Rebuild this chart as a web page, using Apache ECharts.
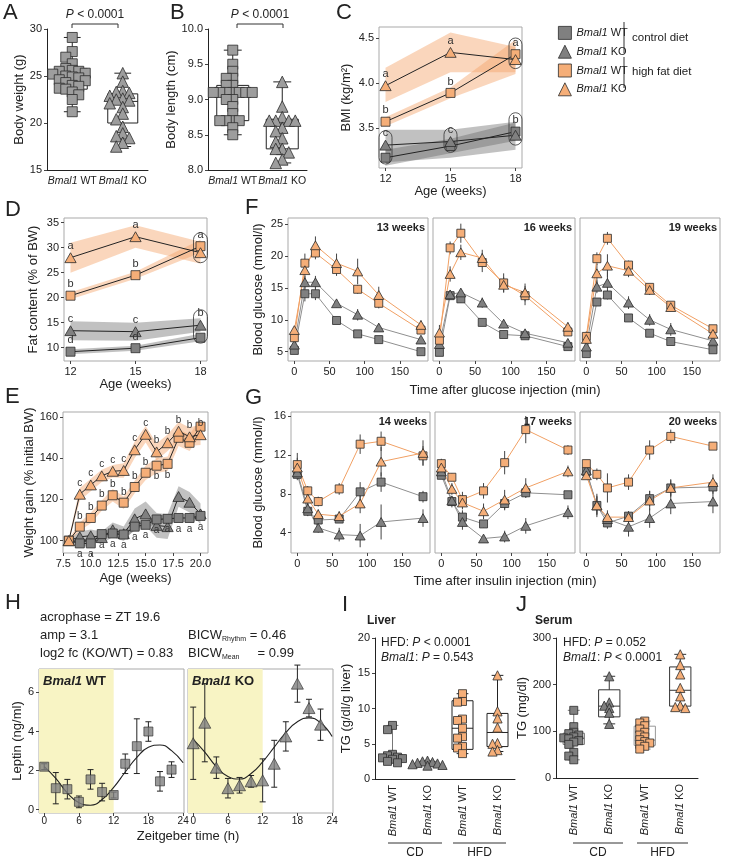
<!DOCTYPE html>
<html>
<head>
<meta charset="utf-8">
<title>Bmal1 metabolic phenotype</title>
<script src="https://cdn.jsdelivr.net/npm/echarts@6/dist/echarts.min.js"></script>
<style>
  html, body { margin: 0; padding: 0; background: #fff; }
  #chart { width: 733px; height: 860px; }
</style>
</head>
<body>
<div id="chart"></div>
<script>
// ---------- data ----------
// A: body weight (g)
const weightWT = [29.1, 27.6, 27.0, 26.3, 25.8, 25.6, 25.5, 25.5, 25.3, 25.2, 25.0, 24.9, 24.8, 24.6, 24.5, 24.3, 24.0, 23.9, 23.7, 23.6, 23.3, 23.0, 22.5, 21.2];
const weightKO = [25.3, 24.4, 23.4, 23.3, 23.2, 22.9, 22.6, 22.5, 22.4, 22.1, 21.7, 21.0, 20.4, 19.6, 18.9, 18.6, 18.4, 17.9, 17.5];
const weightBox = [[21.2, 23.6, 24.9, 25.8, 29.1], [17.5, 20.0, 22.3, 23.1, 25.3]]; // min, q1, median, q3, max
const weightTicks = [15, 20, 25, 30];

// B: body length (cm)
const lengthWT = [9.7, 9.5, 9.4, 9.3, 9.3, 9.2, 9.2, 9.1, 9.1, 9.1, 9.1, 9.1, 9.1, 9.1, 9.1, 9.0, 9.0, 8.9, 8.8, 8.7, 8.7, 8.7, 8.7, 8.6, 8.5];
const lengthKO = [9.25, 8.9, 8.75, 8.7, 8.7, 8.7, 8.7, 8.6, 8.55, 8.45, 8.4, 8.3, 8.3, 8.25, 8.15, 8.1];
const lengthBox = [[8.5, 8.7, 9.1, 9.2, 9.7], [8.1, 8.3, 8.65, 8.72, 9.25]];
const lengthTicks = [8.0, 8.5, 9.0, 9.5, 10.0];

// C/D: age (weeks)
const ages = [12, 15, 18];
const ageTicks = [12, 15, 18];
// C: BMI (kg/m2) mean and band
const bmiCdWt = [3.17, 3.30, 3.46], bmiCdWtLo = [3.08, 3.22, 3.36], bmiCdWtHi = [3.26, 3.38, 3.56];
const bmiCdKo = [3.31, 3.35, 3.42], bmiCdKoLo = [3.12, 3.17, 3.26], bmiCdKoHi = [3.48, 3.48, 3.57];
const bmiHfdWt = [3.57, 3.89, 4.32], bmiHfdWtLo = [3.52, 3.83, 4.10], bmiHfdWtHi = [3.62, 3.95, 4.48];
const bmiHfdKo = [3.97, 4.34, 4.26], bmiHfdKoLo = [3.79, 4.12, 4.12], bmiHfdKoHi = [4.17, 4.56, 4.40];
const bmiLetters = { hfdKo: ['a', 'a', ''], hfdWt: ['b', 'b', 'a'], cdKo: ['c', 'c', ''], cdWt: ['', '', 'b'] };
const bmiCircles = [[12, 3.10, 3.47], [15, 3.23, 3.50], [18, 4.16, 4.50], [18, 3.31, 3.67]];
const bmiTicks = [3.5, 4.0, 4.5];

// D: fat content (% of BW)
const fatCdWt = [9.2, 9.9, 12.0], fatCdWtLo = [8.7, 9.4, 11.3], fatCdWtHi = [9.7, 10.4, 12.8];
const fatCdKo = [13.4, 13.2, 14.5], fatCdKoLo = [11.5, 11.4, 13.2], fatCdKoHi = [15.3, 15.0, 15.9];
const fatHfdWt = [20.4, 24.5, 30.3], fatHfdWtLo = [19.7, 23.8, 29.0], fatHfdWtHi = [21.1, 25.2, 31.6];
const fatHfdKo = [28.0, 32.2, 29.0], fatHfdKoLo = [25.0, 30.0, 26.8], fatHfdKoHi = [31.0, 34.5, 31.2];
const fatLetters = { hfdKo: ['a', 'a', ''], hfdWt: ['b', 'b', 'a'], cdKo: ['c', 'c', 'b'], cdWt: ['d', 'd', ''] };
const fatCircles = [[18, 27.0, 33.0], [18, 10.9, 17.6]];
const fatTicks = [10, 15, 20, 25, 30, 35];

// E: weight gain (% initial BW)
const weeks = [8, 9, 10, 11, 12, 13, 14, 15, 16, 17, 18, 19, 20];
const weekTicks = [7.5, 10, 12.5, 15, 17.5, 20];
const gainHfdKo = [100, 122.5, 127, 131.4, 133.6, 134, 144, 151.5, 143, 147.4, 153, 150.3, 151.3];
const gainHfdWt = [100, 106.8, 111, 117, 122, 118.4, 126, 132.9, 136.3, 137.2, 149.8, 147.4, 155.2];
const gainCdKo = [100, 101.9, 102.4, 101.5, 105.3, 103.4, 110.6, 113, 107.4, 106.8, 121.4, 118.6, 113];
const gainCdWt = [100, 98.7, 98.7, 103.2, 103.5, 103, 106.8, 107.7, 110.3, 110.6, 111, 111, 112];
const gainHfdKoSpread = [1, 3, 3, 3, 3, 3.5, 4, 4, 4, 4, 4.5, 4.5, 5];
const gainHfdWtSpread = [1, 2, 2.5, 2.5, 3, 3, 3, 3.5, 3.5, 3.5, 4, 4, 4];
const gainCdKoSpread = [1, 2.5, 3, 3, 3.5, 3.5, 5, 6, 6, 6, 5, 5, 5];
const gainCdWtSpread = [1, 1.5, 1.5, 1.5, 2, 2, 2, 2, 2, 2, 2, 2, 2];
const gainLettersHfdKo = ['', 'c', 'c', 'c', 'c', 'c', 'c', 'c', 'b', 'b', 'b', 'b', 'b'];
const gainLettersHfdWt = ['', 'b', 'b', 'b', 'b', 'b', 'b', 'b', 'b', 'b', '', '', ''];
const gainLettersCdWt = ['', 'a', 'a', 'a', 'a', 'a', 'a', 'a', 'a', 'a', 'a', 'a', 'a'];
const gainTicks = [100, 120, 140, 160];

// F: glucose tolerance (mmol/l)
const gttTime = [0, 15, 30, 60, 90, 120, 180];
const gttWeeks = ['13 weeks', '16 weeks', '19 weeks'];
const gttCdWt = [[5.2, 14.1, 14.1, 9.9, 7.8, 6.9, 5.0], [4.9, 13.8, 13.3, 9.6, 7.7, 7.5, 5.8], [4.7, 12.8, 13.9, 10.3, 7.9, 6.6, 5.3]];
const gttCdKo = [[6.1, 15.9, 15.9, 12.6, 10.8, 8.8, 6.9], [6.2, 14.0, 14.3, 12.7, 9.4, 7.9, 6.4], [5.8, 15.2, 15.8, 12.7, 10.0, 8.5, 6.7]];
const gttHfdWt = [[7.2, 18.9, 20.5, 17.9, 14.8, 12.6, 8.4], [6.8, 21.3, 23.6, 19.0, 15.8, 13.8, 8.1], [7.4, 19.6, 22.8, 18.6, 15.1, 12.3, 8.6]];
const gttHfdKo = [[8.4, 17.8, 21.7, 18.9, 17.6, 13.9, 9.2], [8.0, 17.2, 20.6, 19.7, 15.5, 14.3, 8.9], [7.0, 17.3, 18.5, 17.7, 14.7, 12.0, 7.8]];
const gttCdWtErr = [[0.5, 1.2, 1.0, 0.5, 0.4, 0.3, 0.3], [0.4, 0.5, 0.6, 0.5, 0.5, 0.4, 0.4], [0.3, 0.6, 0.7, 0.5, 0.4, 0.3, 0.3]];
const gttCdKoErr = [[0.7, 1.0, 1.0, 0.6, 0.9, 0.5, 0.3], [0.8, 0.6, 0.5, 0.8, 0.7, 0.5, 0.5], [0.8, 1.0, 1.8, 1.0, 0.9, 1.0, 0.5]];
const gttHfdWtErr = [[0.8, 1.5, 1.0, 1.0, 0.7, 0.8, 0.5], [1.0, 1.0, 1.5, 1.5, 1.5, 1.5, 0.6], [0.8, 1.0, 1.0, 0.7, 0.5, 0.5, 0.4]];
const gttHfdKoErr = [[0.5, 1.5, 1.4, 1.5, 2.0, 1.3, 0.7], [1.2, 1.2, 1.2, 1.3, 1.2, 1.4, 0.7], [0.8, 1.5, 1.8, 1.0, 0.8, 0.6, 0.5]];
const gttTicks = [5, 10, 15, 20, 25];
const timeTicks = [0, 50, 100, 150];

// G: insulin tolerance (mmol/l)
const ittTime = [0, 15, 30, 60, 90, 120, 180];
const ittWeeks = ['14 weeks', '17 weeks', '20 weeks'];
const ittCdWt = [[10.0, 6.2, 5.3, 5.4, 8.2, 9.2, 7.7], [9.9, 7.2, 5.6, 4.9, 7.0, 8.1, 7.9], [10.3, 6.8, 5.0, 5.7, 7.5, 8.6, 8.7]];
const ittCdKo = [[10.2, 6.5, 4.5, 3.8, 3.7, 5.1, 5.5], [10.3, 7.3, 5.1, 3.4, 3.6, 4.7, 6.1], [10.4, 6.8, 5.4, 4.6, 5.5, 7.0, 7.2]];
const ittHfdWt = [[11.0, 8.3, 7.2, 8.5, 13.1, 13.4, 11.9], [11.1, 9.7, 7.4, 8.3, 11.2, 14.6, 12.5], [11.1, 10.0, 8.6, 9.2, 12.5, 13.9, 12.9]];
const ittHfdKo = [[10.7, 7.5, 5.9, 5.7, 7.0, 11.3, 12.2], [10.7, 8.5, 7.1, 6.2, 7.4, 8.6, 10.3], [9.9, 6.8, 5.6, 5.6, 7.3, 8.6, 9.2]];
const ittCdWtErr = [[0.6, 0.5, 0.4, 0.4, 1.0, 1.0, 0.6], [0.3, 0.6, 0.7, 0.4, 0.7, 0.5, 0.3], [0.5, 1.2, 0.6, 0.5, 0.8, 0.8, 0.7]];
const ittCdKoErr = [[0.6, 0.5, 0.5, 0.7, 1.2, 1.8, 0.9], [0.4, 0.4, 0.8, 0.3, 0.6, 0.8, 0.7], [0.5, 1.0, 0.6, 1.0, 1.0, 1.1, 1.2]];
const ittHfdWtErr = [[1.2, 0.5, 0.5, 0.6, 1.0, 1.0, 1.0], [0.5, 0.4, 0.8, 0.8, 1.2, 1.4, 0.5], [0.3, 0.6, 1.5, 0.8, 1.0, 0.7, 0.3]];
const ittHfdKoErr = [[1.0, 0.7, 0.5, 0.5, 1.0, 1.5, 1.3], [0.7, 0.6, 0.7, 0.8, 1.0, 1.0, 0.6], [0.4, 0.9, 0.7, 0.6, 1.0, 0.9, 0.8]];
const ittTicks = [4, 8, 12, 16];

// H: leptin (ng/ml) over zeitgeber time
const zt = [0, 2, 4, 6, 8, 10, 12, 14, 16, 18, 20, 22];
const leptinWT = [2.2, 1.1, 1.05, 0.4, 1.55, 0.9, 0.75, 2.35, 3.25, 4.0, 1.45, 2.05];
const leptinWTErr = [0.15, 0.8, 0.5, 0.3, 0.5, 0.45, 0.15, 0.5, 1.4, 0.5, 0.5, 0.4];
const leptinKO = [3.4, 4.45, 2.15, 1.1, 1.25, 1.45, 1.5, 2.35, 3.75, 6.45, 5.2, 4.35];
const leptinKOErr = [1.85, 2.0, 0.55, 0.5, 0.4, 0.3, 1.1, 1.2, 0.75, 0.95, 0.45, 0.8];
const fitZt = [0, 2, 4, 6, 8, 10, 12, 14, 16, 18, 20, 22, 24];
const fitWT = [2.2, 1.6, 0.86, 0.36, 0.23, 0.52, 1.14, 1.93, 2.68, 3.19, 3.31, 3.02, 2.4];
const fitKO = [3.6, 2.95, 2.2, 1.7, 1.57, 1.85, 2.45, 3.2, 3.95, 4.5, 4.7, 4.45, 3.75];
const ztTicks = [0, 6, 12, 18, 24];
const leptinTicks = [0, 2, 4, 6];

// I: liver TG (g/dl/g liver), J: serum TG (mg/dl)
const tgGroups = ['CD WT', 'CD KO', 'HFD WT', 'HFD KO'];
const liverCdWt = [7.6, 7.0, 3.5, 3.3, 3.1, 3.0, 2.9, 2.8, 2.5, 2.3];
const liverCdKo = [2.6, 2.5, 2.4, 2.3, 2.2, 2.1, 2.0, 1.9];
const liverHfdWt = [12.1, 11.0, 10.9, 8.5, 8.3, 7.2, 6.0, 5.8, 4.6, 4.4, 3.6];
const liverHfdKo = [14.7, 9.6, 8.6, 7.3, 5.1, 5.0, 4.1, 3.9];
const liverBox = [[2.3, 2.6, 2.9, 3.4, 7.6], [1.9, 2.0, 2.2, 2.5, 2.6], [3.6, 4.2, 7.2, 11.1, 12.1], [3.9, 4.6, 6.6, 9.3, 14.7]];
const liverTicks = [0, 5, 10, 15, 20];
const serumCdWt = [145, 110, 98, 95, 92, 88, 86, 84, 80, 77, 72, 55, 47, 39];
const serumCdKo = [218, 162, 155, 150, 140, 116];
const serumHfdWt = [122, 118, 112, 105, 98, 92, 88, 82, 78, 75, 72, 68, 62];
const serumHfdKo = [265, 242, 222, 193, 175, 155, 152, 150];
const serumBox = [[39, 72, 85, 96, 145], [116, 131, 154, 189, 218], [62, 70, 81, 111, 122], [150, 154, 188, 238, 265]];
const serumTicks = [0, 100, 200, 300];

// ---------- styling ----------
const FONT = 'Liberation Sans, Arial, Helvetica, sans-serif';
const INK = '#222';
const EDGE = '#2b2b2b';
const GRAY = '#808080', GRAY_PALE = '#9d9d9d', ORANGE = '#f5ae78';
const GRAY_LINE = '#8f8f8f', ORANGE_LINE = '#f1a064';
const BAND_GRAY = 'rgba(100,100,100,0.40)', BAND_ORANGE = 'rgba(245,163,106,0.45)';

const GR = {
  cdWt: { name: 'CD WT', sym: 'rect', fill: GRAY, line: GRAY_LINE, band: BAND_GRAY },
  cdKo: { name: 'CD KO', sym: 'triangle', fill: GRAY, line: GRAY_LINE, band: BAND_GRAY },
  hfdWt: { name: 'HFD WT', sym: 'rect', fill: ORANGE, line: ORANGE_LINE, band: BAND_ORANGE },
  hfdKo: { name: 'HFD KO', sym: 'triangle', fill: ORANGE, line: ORANGE_LINE, band: BAND_ORANGE }
};

const BOX = {
  A: { left: 47, top: 29, width: 101, height: 141 },
  B: { left: 208, top: 29, width: 99, height: 141 },
  C: { left: 379, top: 27, width: 143, height: 141 },
  D: { left: 64, top: 218, width: 143, height: 143 },
  E: { left: 63, top: 412, width: 145, height: 141 },
  F: [{ left: 288, top: 218, width: 140, height: 143 }, { left: 433, top: 218, width: 142, height: 143 }, { left: 580, top: 218, width: 140, height: 143 }],
  G: [{ left: 291, top: 412, width: 139, height: 141 }, { left: 435, top: 412, width: 140, height: 141 }, { left: 580, top: 412, width: 140, height: 141 }],
  H: [{ left: 39, top: 669, width: 145, height: 144 }, { left: 188, top: 669, width: 145, height: 144 }],
  I: { left: 375, top: 638, width: 140, height: 141 },
  J: { left: 556, top: 638, width: 142, height: 140 }
};

const grid = [], xAxis = [], yAxis = [], series = [], graphic = [];

function axisOpt(dir, gi, o, framed) {
  const isX = dir === 'x';
  return {
    type: 'value', gridIndex: gi, min: o.min, max: o.max,
    position: isX ? 'bottom' : 'left', show: !o.hidden,
    splitLine: { show: false },
    axisLine: { show: !framed, onZero: false, lineStyle: { color: INK, width: 1 } },
    axisTick: { show: !!o.ticks && o.labels !== false, length: 3, lineStyle: { color: '#444' }, customValues: o.ticks },
    axisLabel: { show: !!o.ticks && o.labels !== false, customValues: o.ticks, margin: o.margin || 5, fontSize: o.fs || 11, color: INK, fontFamily: FONT, formatter: o.fmt },
    name: o.name || '', nameLocation: 'middle', nameGap: o.gap || 20,
    nameTextStyle: { fontSize: 13, color: INK, fontFamily: FONT }
  };
}

function panel(box, xo, yo, framed) {
  grid.push(Object.assign({ show: framed, borderColor: '#a9a9a9', borderWidth: 1, backgroundColor: 'transparent' }, box));
  const gi = grid.length - 1;
  xAxis.push(axisOpt('x', gi, xo, framed));
  yAxis.push(axisOpt('y', gi, yo, framed));
  return { gi, xi: xAxis.length - 1, yi: yAxis.length - 1, box,
    pxX: box.width / (xo.max - xo.min), pxY: box.height / (yo.max - yo.min) };
}

function catAxis(p, cats, rotate, fs) {
  fs = fs || 11;
  xAxis.push({
    type: 'category', gridIndex: p.gi, position: 'bottom', data: cats, boundaryGap: true,
    axisLine: { show: true, lineStyle: { color: INK } }, axisTick: { show: false }, splitLine: { show: false },
    axisLabel: {
      interval: 0, rotate: rotate || 0, margin: 6, fontSize: fs, color: INK, fontFamily: FONT,
      formatter: v => '{i|Bmal1} ' + v.split(' ').pop(),
      rich: { i: { fontStyle: 'italic', fontSize: fs, fontFamily: FONT, color: INK } }
    }
  });
}

// deterministic beeswarm: spread overlapping points sideways
function swarm(vals, p, d) {
  const placed = [];
  return vals.map(v => {
    const py = v * p.pxY;
    for (let k = 0; k < 80; k++) {
      const off = (k % 2 ? -1 : 1) * Math.ceil(k / 2) * d * 0.5;
      if (!placed.some(q => Math.abs(q[0] - off) < d * 0.9 && Math.abs(q[1] - py) < d * 0.9)) {
        placed.push([off, py]);
        return off / p.pxX;
      }
    }
    return 0;
  });
}

function dots(p, idx, vals, sym, fill, size, d) {
  const offs = swarm(vals, p, d);
  return {
    type: 'scatter', xAxisIndex: p.xi, yAxisIndex: p.yi, z: 5, symbol: sym,
    symbolSize: sym === 'triangle' ? size * 1.15 : size,
    itemStyle: { color: fill, borderColor: EDGE, borderWidth: 0.8, opacity: 1 },
    data: vals.map((v, i) => [idx + offs[i], v])
  };
}

function boxSeries(p, stats, w, colors) {
  return {
    type: 'custom', xAxisIndex: p.xi, yAxisIndex: p.yi, z: 2, silent: true,
    data: stats.map((s, i) => [i].concat(s)),
    encode: { x: 0, y: [1, 5] },
    renderItem: (params, api) => {
      const x = api.value(0), c = colors[params.dataIndex];
      const P = k => api.coord([x, api.value(k)]);
      const mn = P(1), q1 = P(2), md = P(3), q3 = P(4), mx = P(5);
      const cx = mn[0], h = w / 2, cap = w * 0.28;
      const st = { stroke: c, lineWidth: 1 };
      const ln = (x1, y1, x2, y2) => ({ type: 'line', shape: { x1, y1, x2, y2 }, style: st });
      return { type: 'group', children: [
        { type: 'rect', shape: { x: cx - h, y: q3[1], width: w, height: q1[1] - q3[1] }, style: { stroke: c, lineWidth: 1, fill: 'transparent' } },
        ln(cx - h, md[1], cx + h, md[1]),
        ln(cx, q1[1], cx, mn[1]), ln(cx, q3[1], cx, mx[1]),
        ln(cx - cap, mn[1], cx + cap, mn[1]), ln(cx - cap, mx[1], cx + cap, mx[1])
      ] };
    }
  };
}

function band(p, xs, lo, hi, color) {
  return {
    type: 'custom', xAxisIndex: p.xi, yAxisIndex: p.yi, z: 1, silent: true,
    data: [[xs[0], lo[0]]],
    renderItem: (params, api) => {
      const top = xs.map((x, i) => api.coord([x, hi[i]]));
      const bot = xs.map((x, i) => api.coord([x, lo[i]])).reverse();
      return { type: 'polygon', shape: { points: top.concat(bot) }, style: { fill: color } };
    }
  };
}

function errBars(p, xs, ys, es, color, cap) {
  return {
    type: 'custom', xAxisIndex: p.xi, yAxisIndex: p.yi, z: 3, silent: true,
    data: xs.map((x, i) => [x, ys[i] - es[i], ys[i] + es[i]]),
    encode: { x: 0, y: [1, 2] },
    renderItem: (params, api) => {
      const a = api.coord([api.value(0), api.value(1)]);
      const b = api.coord([api.value(0), api.value(2)]);
      const st = { stroke: color, lineWidth: 1 };
      const ch = [{ type: 'line', shape: { x1: a[0], y1: a[1], x2: b[0], y2: b[1] }, style: st }];
      if (cap) {
        ch.push({ type: 'line', shape: { x1: a[0] - cap, y1: a[1], x2: a[0] + cap, y2: a[1] }, style: st });
        ch.push({ type: 'line', shape: { x1: b[0] - cap, y1: b[1], x2: b[0] + cap, y2: b[1] }, style: st });
      }
      return { type: 'group', children: ch };
    }
  };
}

function circles(p, items, w) {
  return {
    type: 'custom', xAxisIndex: p.xi, yAxisIndex: p.yi, z: 6, silent: true,
    data: items, encode: { x: 0, y: [1, 2] },
    renderItem: (params, api) => {
      const a = api.coord([api.value(0), api.value(2)]);
      const b = api.coord([api.value(0), api.value(1)]);
      return { type: 'rect', shape: { x: a[0] - w / 2, y: a[1], width: w, height: b[1] - a[1], r: w / 2 },
        style: { stroke: '#333', lineWidth: 0.8, fill: 'transparent' } };
    }
  };
}

function line(p, xs, ys, g, o) {
  o = o || {};
  const size = o.size || 9;
  return {
    type: 'line', name: o.name, xAxisIndex: p.xi, yAxisIndex: p.yi, z: o.z || 5,
    data: xs.map((x, i) => {
      const d = { value: [x, ys[i]] };
      if (o.below && o.below.includes(i)) d.label = { position: 'bottom' };
      return d;
    }),
    symbol: g.sym, symbolSize: g.sym === 'triangle' ? [size * 1.25, size * 1.1] : size,
    showSymbol: true,
    itemStyle: { color: g.fill, borderColor: EDGE, borderWidth: 0.8 },
    lineStyle: { color: o.lineColor || '#222', width: 1 },
    label: o.letters
      ? { show: true, position: 'top', distance: 1, fontSize: o.lf || 11, color: '#333', fontFamily: FONT, formatter: q => o.letters[q.dataIndex] || '' }
      : { show: false },
    emphasis: { disabled: true }
  };
}

// ---------- A ----------
const pA = panel(BOX.A, { min: -0.5, max: 1.5, hidden: true }, { min: 15, max: 30, ticks: weightTicks, name: 'Body weight (g)', gap: 20 }, false);
catAxis(pA, ['WT', 'KO'], 0, 10.5);
series.push(boxSeries(pA, weightBox, 30, ['#222', '#222']));
series.push(dots(pA, 0, weightWT, 'rect', GRAY_PALE, 10, 6.5));
series.push(dots(pA, 1, weightKO, 'triangle', GRAY_PALE, 10, 6.5));

// ---------- B ----------
const pB = panel(BOX.B, { min: -0.5, max: 1.5, hidden: true }, { min: 8, max: 10, ticks: lengthTicks, fmt: v => v.toFixed(1), name: 'Body length (cm)', gap: 26 }, false);
catAxis(pB, ['WT', 'KO'], 0, 10.5);
series.push(boxSeries(pB, lengthBox, 32, ['#222', '#222']));
series.push(dots(pB, 0, lengthWT, 'rect', GRAY_PALE, 10, 6.5));
series.push(dots(pB, 1, lengthKO, 'triangle', GRAY_PALE, 10, 6.5));

// ---------- C ----------
const pC = panel(BOX.C, { min: 11.7, max: 18.3, ticks: ageTicks, name: 'Age (weeks)', gap: 16 },
  { min: 3.056, max: 4.622, ticks: bmiTicks, fmt: v => v.toFixed(1), name: 'BMI (kg/m²)', gap: 26 }, true);
series.push(band(pC, ages, bmiCdKoLo, bmiCdKoHi, BAND_GRAY));
series.push(band(pC, ages, bmiCdWtLo, bmiCdWtHi, BAND_GRAY));
series.push(band(pC, ages, bmiHfdKoLo, bmiHfdKoHi, BAND_ORANGE));
series.push(band(pC, ages, bmiHfdWtLo, bmiHfdWtHi, BAND_ORANGE));
series.push(line(pC, ages, bmiCdWt, GR.cdWt, { name: 'CD WT', letters: bmiLetters.cdWt }));
series.push(line(pC, ages, bmiCdKo, GR.cdKo, { name: 'CD KO', letters: bmiLetters.cdKo }));
series.push(line(pC, ages, bmiHfdWt, GR.hfdWt, { name: 'HFD WT', letters: bmiLetters.hfdWt }));
series.push(line(pC, ages, bmiHfdKo, GR.hfdKo, { name: 'HFD KO', letters: bmiLetters.hfdKo }));
series.push(circles(pC, bmiCircles, 13));

// ---------- D ----------
const pD = panel(BOX.D, { min: 11.7, max: 18.3, ticks: ageTicks, name: 'Age (weeks)', gap: 13 },
  { min: 7.34, max: 35.94, ticks: fatTicks, name: 'Fat content (% of BW)', gap: 24 }, true);
series.push(band(pD, ages, fatCdKoLo, fatCdKoHi, BAND_GRAY));
series.push(band(pD, ages, fatCdWtLo, fatCdWtHi, BAND_GRAY));
series.push(band(pD, ages, fatHfdKoLo, fatHfdKoHi, BAND_ORANGE));
series.push(band(pD, ages, fatHfdWtLo, fatHfdWtHi, BAND_ORANGE));
series.push(line(pD, ages, fatCdWt, GR.cdWt, { letters: fatLetters.cdWt }));
series.push(line(pD, ages, fatCdKo, GR.cdKo, { letters: fatLetters.cdKo }));
series.push(line(pD, ages, fatHfdWt, GR.hfdWt, { letters: fatLetters.hfdWt }));
series.push(line(pD, ages, fatHfdKo, GR.hfdKo, { letters: fatLetters.hfdKo }));
series.push(circles(pD, fatCircles, 14));

// ---------- E ----------
const pE = panel(BOX.E, { min: 7.47, max: 20.68, ticks: weekTicks, fmt: v => v.toFixed(1), name: 'Age (weeks)', gap: 19 },
  { min: 94.05, max: 162.3, ticks: gainTicks, name: 'Weight gain (% initial BW)', gap: 27 }, true);
const spreadLo = (v, s) => v.map((y, i) => y - s[i]);
const spreadHi = (v, s) => v.map((y, i) => y + s[i]);
series.push(band(pE, weeks, spreadLo(gainCdKo, gainCdKoSpread), spreadHi(gainCdKo, gainCdKoSpread), BAND_GRAY));
series.push(band(pE, weeks, spreadLo(gainCdWt, gainCdWtSpread), spreadHi(gainCdWt, gainCdWtSpread), BAND_GRAY));
series.push(band(pE, weeks, spreadLo(gainHfdKo, gainHfdKoSpread), spreadHi(gainHfdKo, gainHfdKoSpread), BAND_ORANGE));
series.push(band(pE, weeks, spreadLo(gainHfdWt, gainHfdWtSpread), spreadHi(gainHfdWt, gainHfdWtSpread), BAND_ORANGE));
series.push(line(pE, weeks, gainCdKo, GR.cdKo, {}));
series.push(line(pE, weeks, gainCdWt, GR.cdWt, { letters: gainLettersCdWt, below: weeks.map((w, i) => i), lf: 10 }));
series.push(line(pE, weeks, gainHfdWt, GR.hfdWt, { letters: gainLettersHfdWt, below: [8, 9], lf: 10 }));
series.push(line(pE, weeks, gainHfdKo, GR.hfdKo, { letters: gainLettersHfdKo, lf: 10 }));

// ---------- text helper ----------
function txt(x, y, text, o) {
  o = o || {};
  const align = o.align || 'left';
  const st = Object.assign({
    text, x, y, fontSize: 12, fontFamily: FONT, fill: INK,
    textAlign: align, verticalAlign: 'middle', textVerticalAlign: 'middle'
  }, o);
  st.align = align;
  if (st.rich) Object.values(st.rich).forEach(r => { r.fontFamily = r.fontFamily || FONT; r.fill = r.fill || INK; });
  return { type: 'text', silent: true, z: 50, style: st };
}

// ---------- F & G ----------
function tolerancePanels(boxes, times, yo, sets, titles) {
  boxes.forEach((box, k) => {
    const yOpt = Object.assign({}, yo, k === 0 ? {} : { labels: false, name: '' });
    const p = panel(box, { min: -9, max: 190, ticks: timeTicks }, yOpt, true);
    sets.forEach(s => {
      series.push(errBars(p, times, s.v[k], s.e[k], '#444', 0));
      series.push(line(p, times, s.v[k], s.g, { lineColor: s.g.line, size: 8 }));
    });
    graphic.push(txt(box.left + box.width - 3, box.top + 10, titles[k], { align: 'right', fontWeight: 'bold', fontSize: 11 }));
  });
}

tolerancePanels(BOX.F, gttTime, { min: 3.54, max: 25.99, ticks: gttTicks, name: 'Blood glucose (mmol/l)', gap: 23 }, [
  { g: GR.cdWt, v: gttCdWt, e: gttCdWtErr }, { g: GR.cdKo, v: gttCdKo, e: gttCdKoErr },
  { g: GR.hfdWt, v: gttHfdWt, e: gttHfdWtErr }, { g: GR.hfdKo, v: gttHfdKo, e: gttHfdKoErr }
], gttWeeks);
tolerancePanels(BOX.G, ittTime, { min: 1.91, max: 16.41, ticks: ittTicks, name: 'Blood glucose (mmol/l)', gap: 26 }, [
  { g: GR.cdWt, v: ittCdWt, e: ittCdWtErr }, { g: GR.cdKo, v: ittCdKo, e: ittCdKoErr },
  { g: GR.hfdWt, v: ittHfdWt, e: ittHfdWtErr }, { g: GR.hfdKo, v: ittHfdKo, e: ittHfdKoErr }
], ittWeeks);

// ---------- H ----------
const hSets = [
  { v: leptinWT, e: leptinWTErr, fit: fitWT, sym: 'rect', label: 'WT' },
  { v: leptinKO, e: leptinKOErr, fit: fitKO, sym: 'triangle', label: 'KO' }
];
hSets.forEach((s, k) => {
  const box = BOX.H[k];
  const p = panel(box, { min: -0.9, max: 24.15, ticks: ztTicks, margin: 3, fs: 10 },
    Object.assign({ min: -0.17, max: 7.2, ticks: leptinTicks, name: 'Leptin (ng/ml)', gap: 14 }, k === 0 ? {} : { labels: false, name: '' }), true);
  series.push({
    type: 'line', xAxisIndex: p.xi, yAxisIndex: p.yi, z: 2, smooth: 0.5, symbol: 'none',
    data: fitZt.map((t, i) => [t, s.fit[i]]), lineStyle: { color: '#222', width: 1.1 },
    markArea: { silent: true, itemStyle: { color: '#f8f4c4' }, data: [[{ xAxis: -0.9 }, { xAxis: 12 }]] }
  });
  series.push(errBars(p, zt, s.v, s.e, '#222', 3));
  series.push({
    type: 'scatter', xAxisIndex: p.xi, yAxisIndex: p.yi, z: 5, symbol: s.sym,
    symbolSize: s.sym === 'triangle' ? [12, 11] : 9,
    itemStyle: { color: GRAY, borderColor: EDGE, borderWidth: 0.8 },
    data: zt.map((t, i) => [t, s.v[i]])
  });
  graphic.push(txt(box.left + 4, box.top + 12, '{b|Bmal1} ' + s.label, {
    fontSize: 13, fontWeight: 'bold', rich: { b: { fontSize: 13, fontWeight: 'bold', fontStyle: 'italic' } }
  }));
});

// ---------- I & J ----------
function tgPanel(box, yo, vals, stats, boxColors, d) {
  const p = panel(box, { min: -0.5, max: 3.5, hidden: true }, yo, false);
  catAxis(p, tgGroups, 90);
  series.push(boxSeries(p, stats, box.width * 0.15, boxColors));
  const gs = [GR.cdWt, GR.cdKo, GR.hfdWt, GR.hfdKo];
  vals.forEach((v, i) => series.push(dots(p, i, v, gs[i].sym, gs[i].fill, 8, d)));
  return p;
}
tgPanel(BOX.I, { min: 0, max: 20, ticks: liverTicks, name: 'TG (g/dl/g liver)', gap: 22 },
  [liverCdWt, liverCdKo, liverHfdWt, liverHfdKo], liverBox, ['#777', '#777', '#222', '#222'], 5);
tgPanel(BOX.J, { min: 0, max: 300, ticks: serumTicks, name: 'TG (mg/dl)', gap: 26 },
  [serumCdWt, serumCdKo, serumHfdWt, serumHfdKo], serumBox, ['#777', '#333', '#999', '#333'], 5);

// ---------- annotations ----------
const ital = () => ({ i: { fontStyle: 'italic', fontSize: 12 } });
const panelLetters = [['A', 3, 13], ['B', 170, 13], ['C', 336, 13], ['D', 5, 210], ['E', 5, 397],
  ['F', 245, 208], ['G', 245, 398], ['H', 5, 603], ['I', 342, 605], ['J', 516, 605]];
panelLetters.forEach(l => graphic.push(txt(l[1], l[2], l[0], { fontSize: 22 })));

function bracket(x1, x2, y) {
  graphic.push({ type: 'polyline', silent: true, shape: { points: [[x1, y + 4], [x1, y], [x2, y], [x2, y + 4]] }, style: { stroke: '#333', lineWidth: 1, fill: null } });
  graphic.push(txt((x1 + x2) / 2, y - 9, '{i|P} < 0.0001', { align: 'center', rich: ital() }));
}
bracket(72, 118, 24);
bracket(237, 283, 24);

graphic.push(txt(40, 617, 'acrophase = ZT 19.6', { fontSize: 13 }));
graphic.push(txt(40, 635, 'amp = 3.1', { fontSize: 13 }));
graphic.push(txt(40, 653, 'log2 fc (KO/WT) = 0.83', { fontSize: 13 }));
const subRich = () => ({ m: { fontSize: 13, lineHeight: 16, verticalAlign: 'middle' }, s: { fontSize: 7, lineHeight: 16, verticalAlign: 'bottom', padding: [8, 0, 0, 0] } });
graphic.push(txt(188, 635, '{m|BICW}{s|Rhythm}{m| = 0.46}', { fontSize: 13, rich: subRich() }));
graphic.push(txt(188, 653, '{m|BICW}{s|Mean}{m|     = 0.99}', { fontSize: 13, rich: subRich() }));

graphic.push(txt(367, 621, 'Liver', { fontWeight: 'bold', fontSize: 12 }));
graphic.push(txt(381, 643, 'HFD: {i|P} < 0.0001', { fontSize: 12, rich: ital() }));
graphic.push(txt(381, 658, '{i|Bmal1}: {i|P} = 0.543', { fontSize: 12, rich: ital() }));
graphic.push(txt(535, 621, 'Serum', { fontWeight: 'bold', fontSize: 12 }));
graphic.push(txt(563, 643, 'HFD: {i|P} = 0.052', { fontSize: 12, rich: ital() }));
graphic.push(txt(563, 658, '{i|Bmal1}: {i|P} < 0.0001', { fontSize: 12, rich: ital() }));

// shared axis titles
graphic.push(txt(505, 390, 'Time after glucose injection (min)', { align: 'center', fontSize: 13 }));
graphic.push(txt(505, 581, 'Time after insulin injection (min)', { align: 'center', fontSize: 13 }));
graphic.push(txt(188, 836, 'Zeitgeber time (h)', { align: 'center', fontSize: 13 }));

// diet group brackets under I and J
function dietLine(x1, x2, label) {
  graphic.push({ type: 'line', silent: true, shape: { x1, y1: 843, x2, y2: 843 }, style: { stroke: '#333', lineWidth: 1 } });
  graphic.push(txt((x1 + x2) / 2, 853, label, { align: 'center', fontSize: 12 }));
}
dietLine(388, 442, 'CD'); dietLine(453, 506, 'HFD');
dietLine(573, 623, 'CD'); dietLine(637, 688, 'HFD');

// legend brackets
graphic.push({ type: 'line', silent: true, shape: { x1: 624, y1: 22, x2: 624, y2: 53 }, style: { stroke: '#333', lineWidth: 1 } });
graphic.push({ type: 'line', silent: true, shape: { x1: 624, y1: 57, x2: 624, y2: 88 }, style: { stroke: '#333', lineWidth: 1 } });
graphic.push(txt(632, 38, 'control diet', { fontSize: 11.5 }));
graphic.push(txt(632, 72, 'high fat diet', { fontSize: 11.5 }));

const chart = echarts.init(document.getElementById('chart'));
chart.setOption({
  animation: false,
  textStyle: { fontFamily: FONT },
  grid, xAxis, yAxis, series, graphic,
  legend: {
    orient: 'vertical', left: 553, top: 21, itemWidth: 13, itemHeight: 13, itemGap: 5, selectedMode: false,
    data: [
      { name: 'CD WT', icon: 'rect', itemStyle: { color: GRAY, borderColor: EDGE, borderWidth: 0.8 } },
      { name: 'CD KO', icon: 'triangle', itemStyle: { color: GRAY, borderColor: EDGE, borderWidth: 0.8 } },
      { name: 'HFD WT', icon: 'rect', itemStyle: { color: ORANGE, borderColor: EDGE, borderWidth: 0.8 } },
      { name: 'HFD KO', icon: 'triangle', itemStyle: { color: ORANGE, borderColor: EDGE, borderWidth: 0.8 } }
    ],
    formatter: n => '{i|Bmal1} ' + n.split(' ').pop(),
    textStyle: { fontSize: 11, color: INK, fontFamily: FONT, rich: { i: { fontStyle: 'italic', fontSize: 11, fontFamily: FONT, color: INK } } }
  }
});
window.addEventListener('resize', () => chart.resize());
</script>
</body>
</html>
